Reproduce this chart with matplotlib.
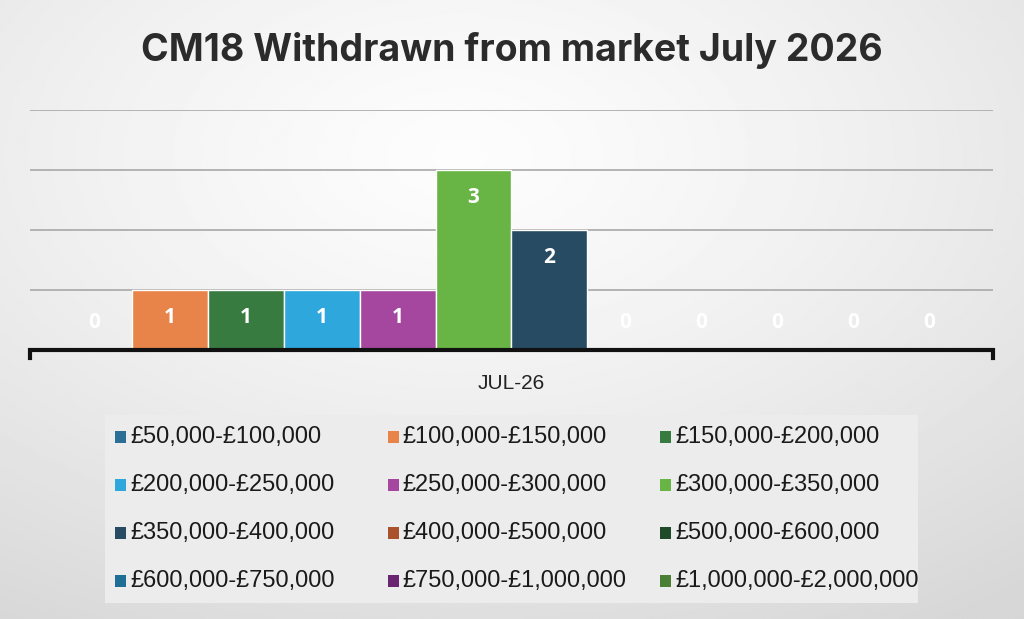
import numpy as np
import matplotlib
matplotlib.use("Agg")
import matplotlib.pyplot as plt
from matplotlib.patches import Rectangle

category = "JUL-26"
ranges = ["£50,000-£100,000", "£100,000-£150,000", "£150,000-£200,000",
          "£200,000-£250,000", "£250,000-£300,000", "£300,000-£350,000",
          "£350,000-£400,000", "£400,000-£500,000", "£500,000-£600,000",
          "£600,000-£750,000", "£750,000-£1,000,000", "£1,000,000-£2,000,000"]
counts = [0, 1, 1, 1, 1, 3, 2, 0, 0, 0, 0, 0]
colors = ["#2c6f96", "#e8834a", "#387b41", "#2ea7dc", "#a6479f", "#68b545",
          "#274b62", "#a9522b", "#1f4a2a", "#1f6e96", "#6a2570", "#4a7f36"]

W, H = 1024, 619
fig = plt.figure(figsize=(W / 100, H / 100), dpi=100)

# soft grey radial background
bg = fig.add_axes([0, 0, 1, 1], zorder=-10)
yy, xx = np.mgrid[0:1:300j, 0:1:500j]
r = np.sqrt(((xx - 0.45) / 0.9) ** 2 + ((yy - 0.25) / 0.9) ** 2)
bg.imshow(0.99 - 0.15 * np.clip(r, 0, 1) ** 1.3, cmap="gray", vmin=0, vmax=1,
          aspect="auto", extent=[0, 1, 0, 1], origin="upper")
bg.axis("off")

ax = fig.add_axes([0.0293, 0.4346, 0.9404, 0.3877])
ax.set_facecolor("none")
n = len(counts)
x = np.arange(n) - (n - 1) / 2
ax.bar(x, counts, width=1.0, color=colors, edgecolor="white", linewidth=1, zorder=3)
for xi, c in zip(x, counts):
    off = -20 if c else 20
    ax.annotate(str(c), (xi, c), xytext=(0, off), textcoords="offset points",
                ha="center", va="center", color="white", fontsize=15,
                fontweight="bold", family="Open Sans", zorder=4)

ax.set_xlim(-6.34, 6.34)
ax.set_ylim(0, 4)
ax.set_yticks([1, 2, 3, 4])
ax.yaxis.grid(True, color="#a8a8a8", linewidth=1.2)
ax.set_axisbelow(True)
ax.tick_params(left=False, labelleft=False, bottom=False)
ax.set_xticks([0])
ax.set_xticklabels([category], fontsize=15, color="#222222", family="Liberation Sans")
ax.tick_params(axis="x", pad=14)
for s in ax.spines.values():
    s.set_visible(False)
ax.plot([0, 0, 1, 1], [-0.035, 0, 0, -0.035], transform=ax.transAxes,
        color="#111111", linewidth=3, clip_on=False, zorder=5,
        solid_joinstyle="miter")

fig.text(0.5, 0.918, "CM18 Withdrawn from market July 2026", ha="center", va="center",
         fontsize=27, fontweight="bold", color="#2b2b2b", family="Inter")

# legend: equal-width columns, read row by row (Excel style)
fig.patches.append(Rectangle((105 / W, 1 - 603 / H), 813 / W, 188 / H,
                             transform=fig.transFigure, facecolor="#ececec",
                             edgecolor="none", zorder=0))
for i, (lab, col) in enumerate(zip(ranges, colors)):
    row, c = divmod(i, 3)
    px = 115 + 272.5 * c
    py = 437 + 48 * row
    fig.patches.append(Rectangle((px / W, 1 - (py + 6) / H), 11 / W, 12 / H,
                                 transform=fig.transFigure, facecolor=col,
                                 edgecolor="none", zorder=1))
    fig.text((px + 15) / W, 1 - py / H, lab, ha="left", va="center",
             fontsize=17, family="Liberation Sans", color="#1a1a1a")

fig.savefig("out.png", dpi=100)
